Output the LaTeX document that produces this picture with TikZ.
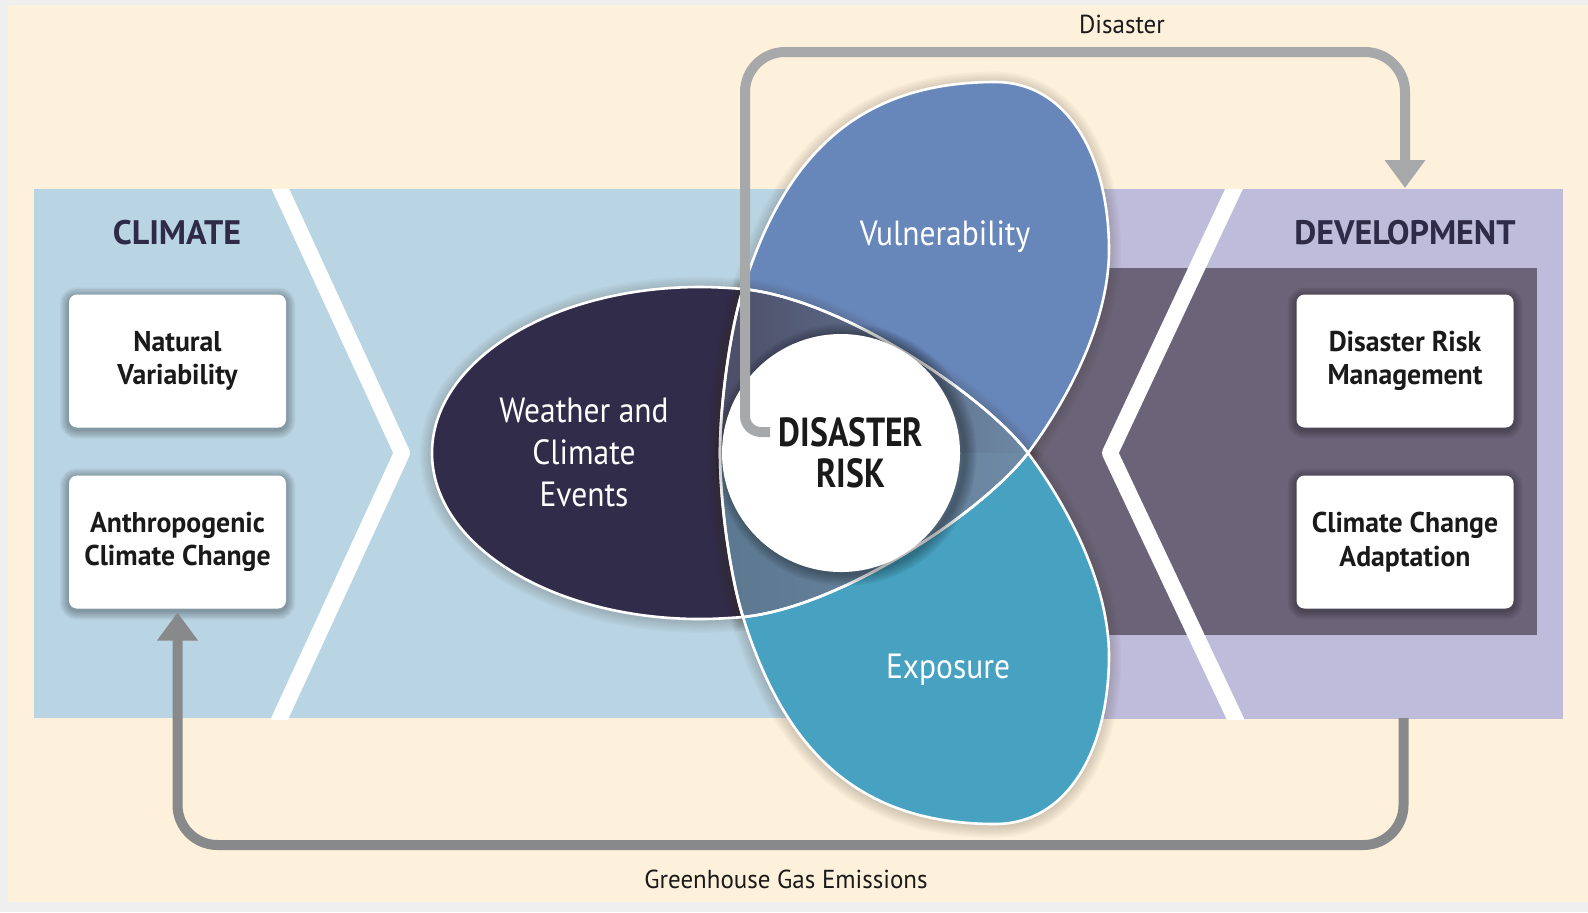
\documentclass[tikz,border=0pt]{standalone}
\usepackage{fontspec}
\setmainfont{PT Sans}
\newfontfamily\boxf[FakeStretch=0.97]{PT Sans}
\newfontfamily\petf[FakeStretch=0.9]{PT Sans}
\newfontfamily\riskf[FakeStretch=0.83]{PT Sans}
\newfontfamily\notef[FakeStretch=0.96]{PT Sans}
\usetikzlibrary{arrows.meta}
\definecolor{outerbg}{HTML}{EFEFEF}
\definecolor{cream}{HTML}{FDF1DC}
\definecolor{bandblue}{HTML}{B9D4E3}
\definecolor{bandlav}{HTML}{BEBCDA}
\definecolor{darkrect}{HTML}{6B6479}
\definecolor{navy}{HTML}{302C4A}
\definecolor{vulblue}{HTML}{6787BB}
\definecolor{exteal}{HTML}{47A1C1}
\definecolor{lensA}{HTML}{4C4C67}
\definecolor{lensB}{HTML}{5C7890}
\definecolor{lensC}{HTML}{6E8AA6}
\definecolor{headc}{HTML}{2E2A48}
\definecolor{contop}{HTML}{A7A8AA}
\definecolor{conbot}{HTML}{88898B}
\definecolor{txtc}{HTML}{1A1A1A}
\definecolor{shadc}{HTML}{3A2A20}
\tikzset{
  shl/.style={preaction={draw=shadc, draw opacity=0.035, fill opacity=0, line width=#1,
      transform canvas={yshift=-0.8pt}}},
  softsh/.style={shl=2pt, shl=4pt, shl=6pt, shl=8pt, shl=10pt, shl=12pt},
  boxsh/.style={preaction={draw=black, draw opacity=0.05, fill opacity=0, line width=#1,
      transform canvas={yshift=-1pt}}},
  wbox/.style={fill=white, rounded corners=4pt, minimum width=108.5pt, minimum height=66.5pt,
    inner sep=0pt, align=center, font=\boxf\bfseries\fontsize{14.3}{16.7}\selectfont, text=txtc,
    boxsh=1.5pt, boxsh=3pt, boxsh=4.5pt, boxsh=6pt, boxsh=7.5pt, boxsh=9pt},
  cirsh/.style={preaction={draw=black, draw opacity=0.06, fill opacity=0, line width=#1,
      transform canvas={xshift=2.2pt, yshift=-0.8pt}}},
  heading/.style={font=\bfseries\fontsize{17}{19}\selectfont, text=headc, inner sep=0pt},
  petaltext/.style={font=\petf\fontsize{17.5}{21}\selectfont, text=white, align=center, inner sep=0pt},
  outline/.style={draw=white, line width=1.3pt},
  note/.style={font=\notef\fontsize{13}{15}\selectfont, text=txtc, inner sep=0pt},
  chev/.style={draw=white, line width=8pt, line join=round},
  conn/.style={line width=5pt, -{Triangle[width=19.5pt,length=14pt]}}
}
\def\Wpath{(700,287) .. controls (552,287) and (432,361) .. (432,453) .. controls (432,545) and (552,619) .. (700,619) .. controls (715,619) and (730,618) .. (743,617) .. controls (843,607) and (986,509) .. (1028,453) .. controls (986,397) and (843,299) .. (743,289) .. controls (730,288) and (715,287) .. (700,287) -- cycle}
\def\Vpath{(743,617) .. controls (731,579) and (720,506) .. (720,453) .. controls (720,400) and (731,327) .. (743,289) .. controls (782,165) and (850,82) .. (995,82) .. controls (1070,82) and (1109,160) .. (1109,250) .. controls (1109,330) and (1058,413) .. (1028,453) .. controls (986,509) and (843,607) .. (743,617) -- cycle}
\def\Epath{(743,289) .. controls (731,327) and (720,400) .. (720,453) .. controls (720,506) and (731,579) .. (743,617) .. controls (782,741) and (850,824) .. (995,824) .. controls (1070,824) and (1109,746) .. (1109,656) .. controls (1109,576) and (1058,493) .. (1028,453) .. controls (986,397) and (843,299) .. (743,289) -- cycle}
\def\Lpath{(743,289) .. controls (843,299) and (986,397) .. (1028,453) .. controls (986,509) and (843,607) .. (743,617) .. controls (731,579) and (720,506) .. (720,453) .. controls (720,400) and (731,327) .. (743,289) -- cycle}
\begin{document}
\begin{tikzpicture}[x=0.5pt,y=-0.5pt]
\useasboundingbox (0,0) rectangle (1588,912);
\fill[outerbg] (0,0) rectangle (1588,912);
\fill[cream] (8,5) rectangle (1588,902);
% bands
\fill[bandblue] (33.5,189) rectangle (1070,718);
\fill[bandlav] (1070,189) rectangle (1563,719);
\fill[darkrect] (1000,268) rectangle (1537,635);
\begin{scope}
  \clip (33.5,189) rectangle (1563,719);
  \draw[chev] (276.3,180) -- (402,453) -- (275.8,727);
  \draw[chev] (1238.2,180) -- (1110,453) -- (1239.2,727);
\end{scope}
% headings
\node[heading] (climh) at (177,233) {CLIMATE};
\node[heading] (devh) at (1405,233) {DEVELOPMENT};
% boxes
\node[wbox] (natural) at (177.5,361) {Natural\\Variability};
\node[wbox] (anthro) at (177.5,542) {Anthropogenic\\Climate Change};
\node[wbox] (drm) at (1405,361) {Disaster Risk\\Management};
\node[wbox] (cca) at (1405,542) {Climate Change\\Adaptation};
% shapes
\fill[navy, softsh] \Wpath;
\fill[vulblue, softsh] \Vpath;
\fill[exteal, softsh] \Epath;
\begin{scope}
  \clip \Lpath;
  \fill[left color=lensA, right color=lensC] (715,280) rectangle (1035,453);
  \fill[left color=lensB, right color=lensC] (715,453) rectangle (1035,625);
\end{scope}
\draw[outline] \Wpath;
\draw[outline] \Vpath;
\draw[outline] \Epath;
% disaster risk circle
\node[circle, fill=white, minimum size=119pt, inner sep=0pt,
  cirsh=2pt, cirsh=4pt, cirsh=6pt, cirsh=8pt, cirsh=10pt, cirsh=12pt] (risk) at (841,453) {};
\node[font=\riskf\bfseries\fontsize{20.3}{20.5}\selectfont, text=txtc, align=center, inner sep=0pt] (risklbl) at (851,453) {DISASTER\\RISK};
% petal labels
\node[petaltext] (wce) at (584,452) {Weather and\\Climate\\Events};
\node[petaltext] (vul) at (945,237) {Vulnerability};
\node[petaltext] (exp) at (948,670) {Exposure};
% connectors
\coordinate (stubend) at (770,432);
\coordinate (devtop) at (1405,188);
\coordinate (devbot) at (1403.5,718);
\draw[conn, draw=contop] (stubend) [rounded corners=8pt] -- (745,432) [rounded corners=20pt] -- (745,52) -- (1405,52) -- (devtop);
\draw[conn, draw=conbot] (devbot) [rounded corners=20pt] -- (1403.5,845) -- (anthro.south |- 0,845) -- ([yshift=-1.8pt]anthro.south);
\node[note] (dislbl) at (1122,24) {Disaster};
\node[note] (ghglbl) at (786,879) {Greenhouse Gas Emissions};
\end{tikzpicture}
\end{document}
